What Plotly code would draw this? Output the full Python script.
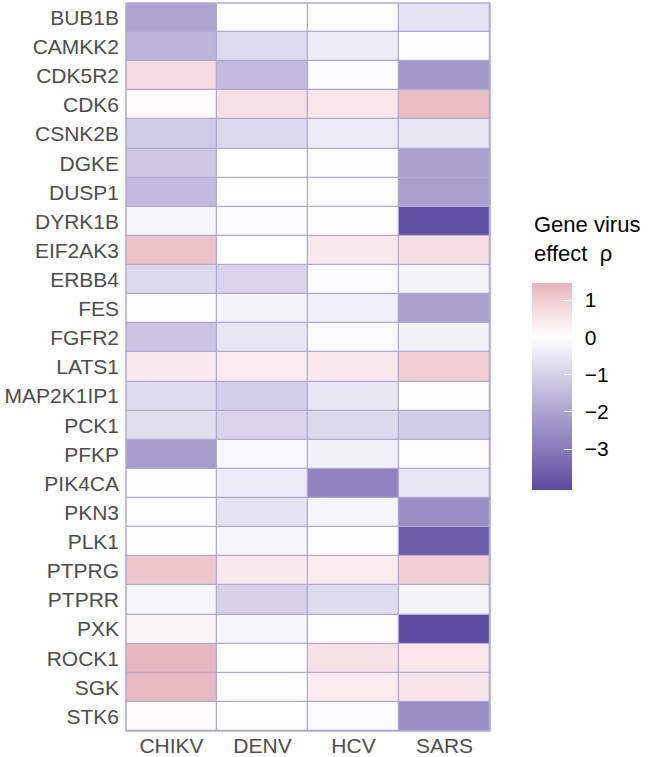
import plotly.graph_objects as go

genes = ["BUB1B", "CAMKK2", "CDK5R2", "CDK6", "CSNK2B", "DGKE", "DUSP1", "DYRK1B",
         "EIF2AK3", "ERBB4", "FES", "FGFR2", "LATS1", "MAP2K1IP1", "PCK1", "PFKP",
         "PIK4CA", "PKN3", "PLK1", "PTPRG", "PTPRR", "PXK", "ROCK1", "SGK", "STK6"]
viruses = ["CHIKV", "DENV", "HCV", "SARS"]

chikv = [-2.0, -1.65, 0.75, 0.1, -1.1, -1.2, -1.5, -0.2, 1.2, -0.8, 0.03, -1.25, 0.45,
         -0.75, -0.7, -2.15, -0.05, -0.05, -0.05, 1.1, -0.2, 0.2, 1.4, 1.35, 0.1]
denv = [0.05, -0.75, -1.5, 0.65, -0.8, 0.0, 0.0, -0.1, 0.0, -0.9, -0.25, -0.55, 0.4,
        -1.05, -0.9, -0.15, -0.45, -0.6, -0.2, 0.45, -0.95, -0.2, 0.03, 0.02, 0.01]
hcv = [-0.05, -0.4, -0.1, 0.5, -0.45, -0.05, -0.05, -0.05, 0.45, -0.1, -0.35, -0.1, 0.45,
       -0.5, -0.8, -0.3, -2.8, -0.2, -0.05, 0.4, -0.75, 0.08, 0.6, 0.4, -0.1]
sars = [-0.6, 0.05, -2.3, 1.3, -0.55, -2.1, -2.1, -4.0, 0.7, -0.25, -2.1, -0.3, 0.95,
        0.03, -1.1, 0.08, -0.5, -2.5, -3.7, 0.95, -0.25, -4.1, 0.5, 0.55, -2.55]

tick_vals = [1, 0, -1, -2, -3]
tick_text = ["1", "0", "\u22121", "\u22122", "\u22123"]
legend_title = "Gene virus<br>effect  \u03c1"

zmin, zmax = -4.1, 1.46
mid = (0 - zmin) / (zmax - zmin)

z = [[chikv[i], denv[i], hcv[i], sars[i]] for i in range(len(genes))]

colorscale = [
    [0.0, "#5c4ba0"],
    [mid * 0.5, "#aca2cf"],
    [mid * 0.8, "#dcd8ed"],
    [mid, "#ffffff"],
    [mid + (1 - mid) * 0.5, "#f5dbe0"],
    [1.0, "#e7b3bb"],
]

FONT = "Liberation Sans, Arial, Helvetica"
L, R, T, B = 126, 160, 3, 26
W, H = 650, 757
pw, ph = W - L - R, H - T - B

cb_common = dict(
    thickness=40, thicknessmode="pixels",
    len=207, lenmode="pixels",
    x=(532 - L) / pw, xanchor="left",
    y=(H - B - 386.5) / ph, yanchor="middle",
    outlinewidth=0, xpad=0, ypad=0,
    tickvals=tick_vals, ticktext=tick_text,
)

fig = go.Figure()
fig.add_trace(go.Heatmap(
    z=z, x=viruses, y=genes, zmin=zmin, zmax=zmax, colorscale=colorscale,
    xgap=1.5, ygap=1.5, hoverinfo="skip",
    colorbar=dict(**cb_common, ticks="outside", ticklen=9,
                  tickcolor="rgba(0,0,0,0)",
                  tickfont=dict(size=21, color="black", family=FONT)),
))
fig.add_trace(go.Heatmap(
    z=z, x=viruses, y=genes, zmin=zmin, zmax=zmax, colorscale=colorscale,
    xgap=1.5, ygap=1.5,
    colorbar=dict(**cb_common, ticks="inside", ticklen=8, tickcolor="white",
                  tickwidth=1, showticklabels=False),
))

fig.add_annotation(
    text=legend_title, xref="paper", yref="paper",
    x=(532 - L) / pw, y=(H - B - 268) / ph,
    xanchor="left", yanchor="bottom", align="left", showarrow=False,
    font=dict(size=22, color="black", family=FONT),
)

fig.update_layout(
    width=W, height=H,
    margin=dict(l=L, r=R, t=T, b=B, autoexpand=False),
    paper_bgcolor="white",
    plot_bgcolor="#b1a8d6",
    font=dict(family=FONT, size=21, color="#4d4d4d"),
    showlegend=False,
)
fig.update_xaxes(showgrid=False, zeroline=False, ticks="", side="bottom", automargin=False,
                 tickfont=dict(size=21, color="#4d4d4d"), ticklabelstandoff=0)
fig.update_yaxes(showgrid=False, zeroline=False, ticks="", autorange="reversed", automargin=False,
                 tickfont=dict(size=21, color="#4d4d4d"), ticklabelstandoff=6)
fig.add_shape(type="rect", xref="paper", yref="paper", x0=0, x1=1, y0=0, y1=1,
              line=dict(color="#b1a8d6", width=1.5), fillcolor="rgba(0,0,0,0)")

fig.write_html("out.html", config={"displayModeBar": False},
               post_script="document.body.style.margin='0';")
